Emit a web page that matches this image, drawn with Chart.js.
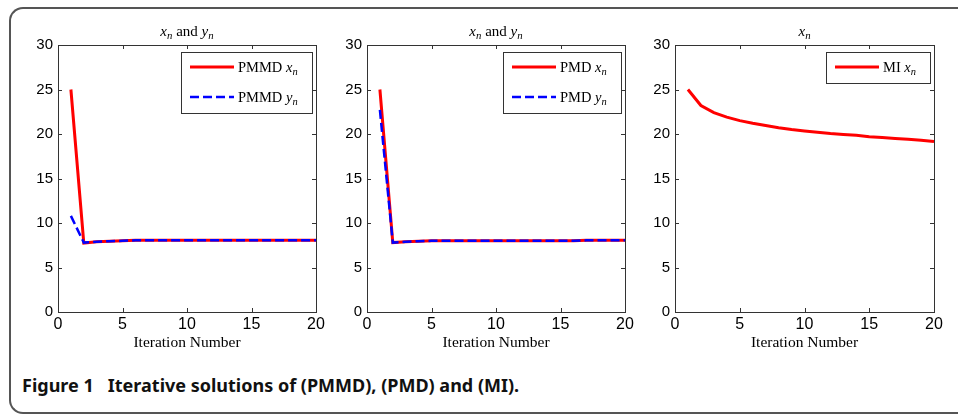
<!DOCTYPE html>
<html>
<head>
<meta charset="utf-8">
<script src="https://cdn.jsdelivr.net/npm/chart.js@4.4.0/dist/chart.umd.min.js"></script>
<style>
    html, body { margin: 0; padding: 0; background: #fff; }
    body { width: 958px; height: 414px; position: relative; overflow: hidden; }
    .frame {
        position: absolute; left: 9px; top: 7px; width: 990px; height: 407px;
        border: 2px solid #555; border-right: none; border-radius: 14px 0 0 14px;
        box-sizing: border-box;
    }
    .plot { position: absolute; top: 15px; }
    .caption {
        position: absolute; left: 22px; top: 373px; white-space: pre;
        font: bold 18px "Noto Sans", sans-serif; color: #111;
    }
</style>
</head>
<body>
<div class="frame"></div>
<canvas id="chartPmmd" class="plot" width="310" height="347" style="left:18px"></canvas>
<canvas id="chartPmd" class="plot" width="310" height="347" style="left:327px"></canvas>
<canvas id="chartMi" class="plot" width="311" height="347" style="left:635px"></canvas>
<div class="caption">Figure 1   Iterative solutions of (PMMD), (PMD) and (MI).</div>
<script>
(() => {
    "use strict";

    const iterations = [1, 2, 3, 4, 5, 6, 7, 8, 9, 10, 11, 12, 13, 14, 15, 16, 17, 18, 19, 20];
    const pmmdX = [25, 7.75, 7.9, 7.95, 8.0, 8.05, 8.05, 8.05, 8.05, 8.05, 8.05, 8.05, 8.05, 8.05, 8.05, 8.05, 8.05, 8.05, 8.05, 8.05];
    const pmmdY = [10.8, 7.8, 7.9, 7.95, 8.0, 8.05, 8.05, 8.05, 8.05, 8.05, 8.05, 8.05, 8.05, 8.05, 8.05, 8.05, 8.05, 8.05, 8.05, 8.05];
    const pmdX = [25, 7.8, 7.9, 7.95, 8.0, 8.0, 8.0, 8.0, 8.0, 8.0, 8.0, 8.0, 8.0, 8.0, 8.0, 8.0, 8.05, 8.05, 8.05, 8.05];
    const pmdY = [22.7, 7.8, 7.9, 7.95, 8.0, 8.0, 8.0, 8.0, 8.0, 8.0, 8.0, 8.0, 8.0, 8.0, 8.0, 8.0, 8.05, 8.05, 8.05, 8.05];
    const miX = [25, 23.2, 22.4, 21.9, 21.5, 21.2, 20.95, 20.7, 20.5, 20.35, 20.2, 20.05, 19.95, 19.85, 19.7, 19.6, 19.5, 19.4, 19.3, 19.15];
    const xTicks = [0, 5, 10, 15, 20];
    const yTicks = [0, 5, 10, 15, 20, 25, 30];

    const serif = "\"Liberation Serif\", serif";
    const sans = "\"Liberation Sans\", Arial, sans-serif";

    const fontFor = (size, italic) => `${italic ? "italic " : ""}${size}px ${serif}`;

    // splits "PMMD x_n" into plain words and italic letters with a subscript
    const richParts = (text) => {
        const parts = [];
        text.split(" ").forEach((word, i) => {
            if (i > 0) {
                parts.push({ t: " " });
            }
            const m = word.match(/^([a-z])_([a-z])$/);
            if (m) {
                parts.push({ t: m[1], italic: true });
                parts.push({ t: m[2], italic: true, sub: true });
            } else {
                parts.push({ t: word });
            }
        });
        return parts;
    };

    const measureRich = (ctx, text, size) => {
        let total = 0;
        richParts(text).forEach((p) => {
            ctx.font = fontFor(p.sub ? size * 0.72 : size, p.italic);
            total += ctx.measureText(p.t).width;
        });
        return total;
    };

    const drawRich = (ctx, text, x, y, size, align) => {
        const total = measureRich(ctx, text, size);
        let cx = align === "center" ? x - total / 2 : x;
        ctx.textAlign = "left";
        ctx.textBaseline = "alphabetic";
        ctx.fillStyle = "#000";
        richParts(text).forEach((p) => {
            ctx.font = fontFor(p.sub ? size * 0.72 : size, p.italic);
            ctx.fillText(p.t, cx, p.sub ? y + size * 0.22 : y);
            cx += ctx.measureText(p.t).width;
        });
    };

    const matlabFrame = {
        id: "matlabFrame",
        afterDraw(chart, args, opts) {
            const { ctx, chartArea: a, scales } = chart;
            ctx.save();

            // axes box with inward ticks
            ctx.strokeStyle = "#333";
            ctx.lineWidth = 1;
            ctx.strokeRect(a.left + 0.5, a.top + 0.5, a.right - a.left, a.bottom - a.top);
            ctx.beginPath();
            scales.x.ticks.forEach((t) => {
                const px = Math.round(scales.x.getPixelForValue(t.value)) + 0.5;
                ctx.moveTo(px, a.bottom);
                ctx.lineTo(px, a.bottom - 4);
                ctx.moveTo(px, a.top);
                ctx.lineTo(px, a.top + 4);
            });
            scales.y.ticks.forEach((t) => {
                const py = Math.round(scales.y.getPixelForValue(t.value)) + 0.5;
                ctx.moveTo(a.left, py);
                ctx.lineTo(a.left + 4, py);
                ctx.moveTo(a.right, py);
                ctx.lineTo(a.right - 4, py);
            });
            ctx.stroke();

            // title
            drawRich(ctx, opts.title, (a.left + a.right) / 2, a.top - 9, 15, "center");

            // legend inside the axes, top right
            const sets = chart.data.datasets;
            const textW = Math.max(...sets.map((ds) => measureRich(ctx, ds.label, 14.5)));
            const boxW = Math.round(9 + 44 + 4 + textW + 14);
            const boxH = 30 * sets.length + 1;
            const bx = Math.round(a.right - 4 - boxW);
            const by = a.top + 7;
            ctx.fillStyle = "#fff";
            ctx.fillRect(bx, by, boxW, boxH);
            ctx.strokeStyle = "#333";
            ctx.lineWidth = 1;
            ctx.strokeRect(bx + 0.5, by + 0.5, boxW, boxH);
            sets.forEach((ds, i) => {
                const cy = by + 15 + i * 30;
                ctx.beginPath();
                ctx.strokeStyle = ds.borderColor;
                ctx.lineWidth = ds.borderWidth;
                ctx.setLineDash(ds.borderDash || []);
                ctx.moveTo(bx + 9, cy);
                ctx.lineTo(bx + 53, cy);
                ctx.stroke();
                ctx.setLineDash([]);
                drawRich(ctx, ds.label, bx + 57, cy + 5, 14.5, "left");
            });
            ctx.restore();
        }
    };

    const toPoints = (values) => values.map((v, i) => ({ x: iterations[i], y: v }));

    const redLine = (label, values) => ({
        label,
        data: toPoints(values),
        borderColor: "#ff0000",
        borderWidth: 3,
        pointRadius: 0,
        tension: 0,
        order: 1
    });

    const blueLine = (label, values) => ({
        label,
        data: toPoints(values),
        borderColor: "#0000ff",
        borderWidth: 2.5,
        borderDash: [9, 4],
        pointRadius: 0,
        tension: 0,
        order: 0
    });

    const makeChart = (id, title, datasets) => {
        new Chart(document.getElementById(id), {
            type: "line",
            data: { datasets },
            plugins: [matlabFrame],
            options: {
                responsive: false,
                animation: false,
                devicePixelRatio: 1,
                layout: { padding: { top: 30, right: 12, bottom: 10, left: 0 } },
                plugins: {
                    legend: { display: false },
                    title: { display: false },
                    tooltip: { enabled: false },
                    matlabFrame: { title }
                },
                scales: {
                    x: {
                        type: "linear",
                        min: xTicks[0],
                        max: xTicks[xTicks.length - 1],
                        afterBuildTicks: (s) => { s.ticks = xTicks.map((v) => ({ value: v })); },
                        afterFit: (s) => { s.height = 40; },
                        grid: { display: false, drawTicks: false },
                        border: { display: false },
                        ticks: { color: "#000", padding: 3, maxRotation: 0, autoSkip: false, font: { family: sans, size: 16 } },
                        title: { display: true, text: "Iteration Number", color: "#000", padding: 0, font: { family: serif, size: 15.5 } }
                    },
                    y: {
                        min: yTicks[0],
                        max: yTicks[yTicks.length - 1],
                        afterBuildTicks: (s) => { s.ticks = yTicks.map((v) => ({ value: v })); },
                        afterFit: (s) => { s.width = 40; },
                        grid: { display: false, drawTicks: false },
                        border: { display: false },
                        ticks: { color: "#000", padding: 5, autoSkip: false, font: { family: sans, size: 15 } }
                    }
                }
            }
        });
    };

    makeChart("chartPmmd", "x_n and y_n", [redLine("PMMD x_n", pmmdX), blueLine("PMMD y_n", pmmdY)]);
    makeChart("chartPmd", "x_n and y_n", [redLine("PMD x_n", pmdX), blueLine("PMD y_n", pmdY)]);
    makeChart("chartMi", "x_n", [redLine("MI x_n", miX)]);
})();
</script>
</body>
</html>
